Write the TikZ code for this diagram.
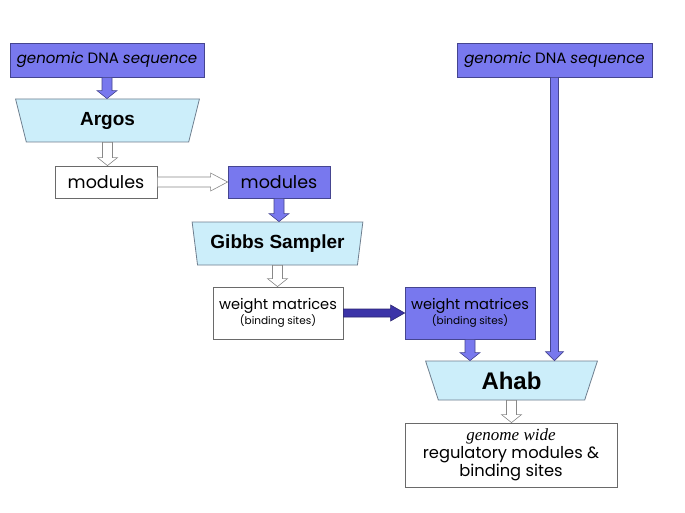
\documentclass[tikz,border=0pt]{standalone}
\usepackage{fontspec}
\setmainfont{Poppins}
\newfontfamily\boldsans{Liberation Sans}
\newfontfamily\serifit{Liberation Serif}
\usetikzlibrary{shapes.geometric,calc}
\definecolor{bluefill}{HTML}{7878EE}
\definecolor{blueedge}{HTML}{454590}
\definecolor{cyanfill}{HTML}{CCEEFA}
\definecolor{cyanedge}{HTML}{6F7F8F}
\definecolor{grayedge}{HTML}{6A6A6A}
\definecolor{darkarrow}{HTML}{3C34A8}
\definecolor{darkedge}{HTML}{2A2470}
\newcommand{\downblock}[6]{%
  \path[#1] let \p1=(#2), \p2=(#3) in
    (\x1-#4,\y1) -- (\x1-#4,\y2+#6) -- (\x1-#5,\y2+#6) -- (\x1,\y2)
    -- (\x1+#5,\y2+#6) -- (\x1+#4,\y2+#6) -- (\x1+#4,\y1) -- cycle;}
\newcommand{\rightblock}[6]{%
  \path[#1] let \p1=(#2), \p2=(#3) in
    (\x1,\y1+#4) -- (\x2-#6,\y1+#4) -- (\x2-#6,\y1+#5) -- (\x2,\y1)
    -- (\x2-#6,\y1-#5) -- (\x2-#6,\y1-#4) -- (\x1,\y1-#4) -- cycle;}
\tikzset{
  x=1pt, y=-1pt,
  bluebox/.style={draw=blueedge, line width=0.8pt, fill=bluefill, rectangle, inner sep=0pt, align=center},
  whitebox/.style={draw=grayedge, line width=0.8pt, fill=white, rectangle, inner sep=0pt, align=center},
  tool/.style={draw=cyanedge, line width=0.8pt, fill=cyanfill, shape=trapezium, shape border rotate=180,
    trapezium stretches=true, inner sep=0pt, font=\boldsans\bfseries\fontsize{19}{22}\selectfont},
  bluearrow/.style={draw=blueedge, line width=0.6pt, fill=bluefill},
  hollowarrow/.style={draw=grayedge!80, line width=0.6pt, fill=white},
  darkarr/.style={draw=darkedge, line width=0.6pt, fill=darkarrow},
  dnatext/.style={font=\fontsize{15}{18}\selectfont},
  modtext/.style={font=\fontsize{17.5}{20}\selectfont},
}
\begin{document}
\begin{tikzpicture}
\useasboundingbox[fill=white] (0,0) rectangle (685,513);
% nodes
\node[bluebox, dnatext, minimum width=194pt, minimum height=34pt] (dna1) at (107,60) {\textit{genomic} DNA \textit{sequence}};
\node[bluebox, dnatext, minimum width=195pt, minimum height=34pt] (dna2) at (554.5,60) {\textit{genomic} DNA \textit{sequence}};
\node[tool, trapezium left angle=78, trapezium right angle=78, minimum width=185pt, minimum height=43pt] (argos) at (107.5,120.5) {Argos};
\node[whitebox, modtext, minimum width=102pt, minimum height=32pt] (mod1) at (106,182) {modules};
\node[bluebox, modtext, minimum width=102pt, minimum height=32pt] (mod2) at (279,182) {modules};
\node[tool, trapezium left angle=75.6, trapezium right angle=75.6, minimum width=171pt, minimum height=43pt] (gibbs) at (277.5,243.5) {Gibbs Sampler};
\node[whitebox, minimum width=130pt, minimum height=52pt] (wm1) at (278,313) {{\fontsize{14.6}{16}\selectfont weight matrices}\\[0pt]{\fontsize{10.5}{12}\selectfont (binding sites)}};
\node[bluebox, minimum width=130pt, minimum height=52pt] (wm2) at (470,313) {{\fontsize{14.6}{16}\selectfont weight matrices}\\[0pt]{\fontsize{10.5}{12}\selectfont (binding sites)}};
\node[tool, trapezium left angle=73.5, trapezium right angle=73.5, minimum width=173pt, minimum height=39pt, font=\boldsans\bfseries\fontsize{24}{27}\selectfont] (ahab) at (511.5,380.5) {Ahab};
\node[whitebox, minimum width=212pt, minimum height=64pt] (result) at (511,455) {{\serifit\itshape\fontsize{17}{19}\selectfont genome wide}\\[1.5pt]{\fontsize{16.3}{19}\selectfont regulatory modules \&}\\[0pt]{\fontsize{16.3}{19}\selectfont binding sites}};
% connectors
\downblock{bluearrow}{dna1.south}{argos.north}{5pt}{10pt}{8pt}
\downblock{hollowarrow}{argos.south}{mod1.north}{5pt}{10pt}{8pt}
\rightblock{hollowarrow}{mod1.east}{mod2.west}{5pt}{9pt}{17pt}
\downblock{bluearrow}{mod2.south}{gibbs.north}{5pt}{10pt}{8pt}
\downblock{hollowarrow}{gibbs.south}{wm1.north}{5pt}{10pt}{8pt}
\rightblock{darkarr}{wm1.east}{wm2.west}{4pt}{8pt}{14pt}
\downblock{bluearrow}{wm2.south}{wm2.south |- ahab.north}{5pt}{10pt}{8pt}
\downblock{bluearrow}{dna2.south}{dna2.south |- ahab.north}{4pt}{9pt}{9pt}
\downblock{hollowarrow}{ahab.south}{result.north}{5pt}{10pt}{8pt}
\end{tikzpicture}
\end{document}
